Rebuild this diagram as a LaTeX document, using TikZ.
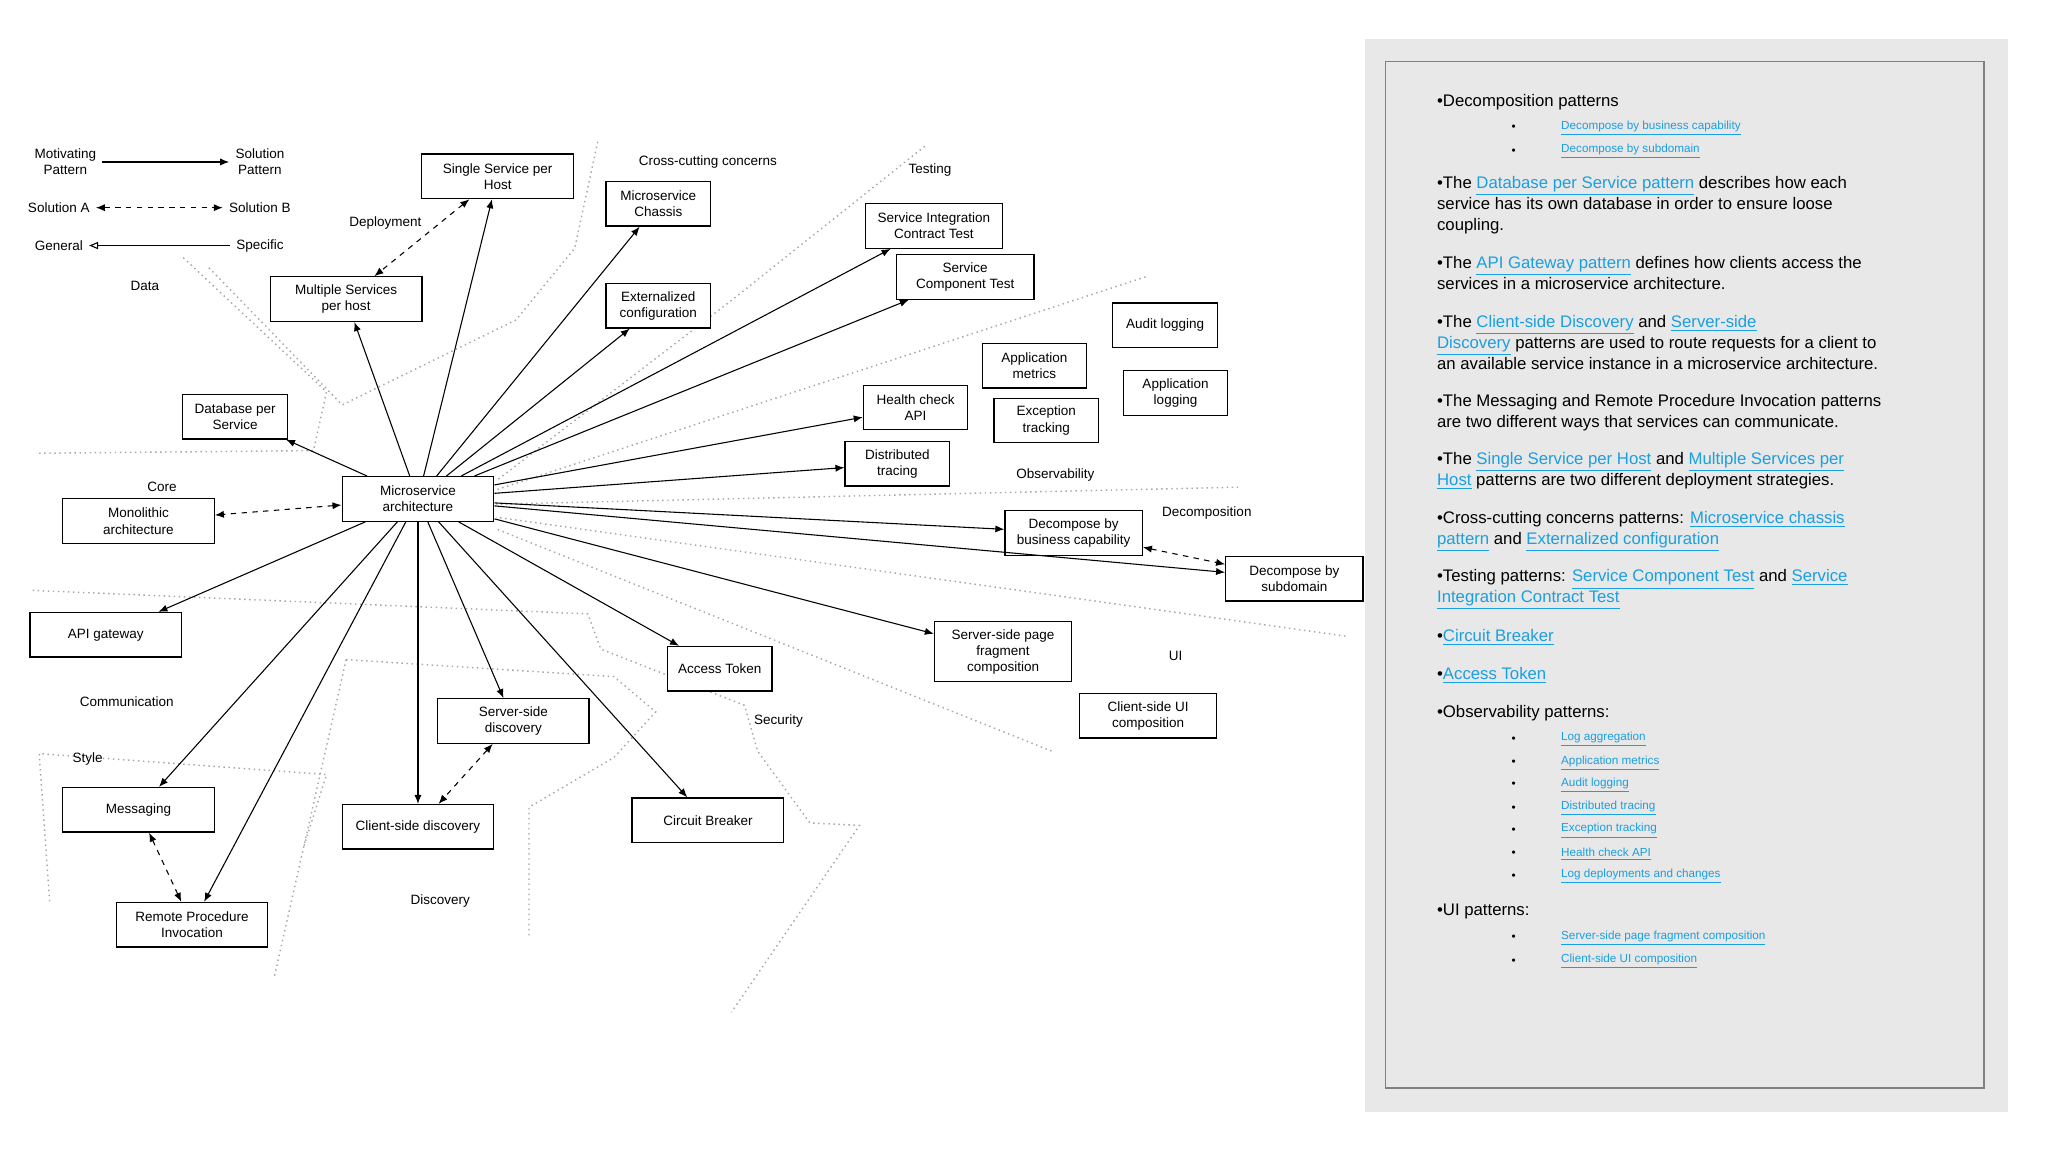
\documentclass[tikz,border=0pt]{standalone}
\usepackage{fontspec}
\setmainfont{Liberation Sans}
\usetikzlibrary{arrows.meta}
\definecolor{lnk}{HTML}{1A9FE0}
\definecolor{panel}{HTML}{E8E8E8}
\newcommand{\lk}[1]{\textcolor{lnk}{\underline{#1}}}

\begin{document}
\begin{tikzpicture}[x=0.0255cm, y=-0.0255cm,
    box/.style={draw, fill=white, line width=0.7pt, minimum width=#1, minimum height=0.87cm,
        align=center, inner sep=1pt, font=\fontsize{7.5}{9}\selectfont},
    box/.default=2.04cm,
    lab/.style={font=\fontsize{7.5}{9}\selectfont, align=center},
    arr/.style={-{Latex[length=5pt,width=4pt]}, line width=0.6pt},
    dsh/.style={{Latex[length=5pt,width=4pt]}-{Latex[length=5pt,width=4pt]}, dashed, line width=0.6pt},
    zone/.style={dotted, gray!70, line width=0.8pt},
    para/.style={anchor=north west, align=left, inner sep=0pt, font=\fontsize{9.3}{11.6}\selectfont},
    sub/.style={anchor=west, inner sep=0pt, font=\fontsize{6.5}{8}\selectfont}]
    \useasboundingbox (0,0) rectangle (1568,882);

    % Zone borders
    \draw[zone] (30,347) -- (240,345) -- (250,300) -- (140,197);
    \draw[zone] (160,205) -- (262,310) -- (395,245) -- (440,190) -- (458,107);
    \draw[zone] (708,112) -- (560,230) -- (380,368);
    \draw[zone] (877,212) -- (380,375);
    \draw[zone] (948,373) -- (380,386);
    \draw[zone] (1030,487) -- (380,396);
    \draw[zone] (805,575) -- (380,405);
    \draw[zone] (25,452) -- (450,470) -- (460,497) -- (570,540) -- (580,575) -- (620,630) -- (658,632) -- (560,775);
    \draw[zone] (265,505) -- (470,518) -- (502,545) -- (470,580) -- (405,618) -- (405,718);
    \draw[zone] (265,505) -- (210,748);
    \draw[zone] (38,690) -- (30,577) -- (250,593) -- (232,650);

    % Legend
    \node[lab] (lmot) at (50,124) {Motivating\\Pattern};
    \node[lab] (lsol) at (199,124) {Solution\\Pattern};
    \node[lab] (lsa) at (45,159) {Solution A};
    \node[lab] (lsb) at (199,159) {Solution B};
    \node[lab] (lgen) at (45,188) {General};
    \node[lab] (lspe) at (199,188) {Specific};
    \draw[arr] (lmot) -- (lsol);
    \draw[dsh] (lsa) -- (lsb);
    \draw[-{Triangle[open,length=5pt,width=4pt]}, line width=0.6pt] (lspe) -- (lgen);

    % Zone labels
    \node[lab] at (542,124) {Cross-cutting concerns};
    \node[lab] at (712,130) {Testing};
    \node[lab] at (295,171) {Deployment};
    \node[lab] at (111,219) {Data};
    \node[lab] at (124,373) {Core};
    \node[lab] at (808,364) {Observability};
    \node[lab] at (924,393) {Decomposition};
    \node[lab] at (900,502) {UI};
    \node[lab] at (97,537) {Communication};
    \node[lab] at (596,552) {Security};
    \node[lab] at (67,581) {Style};
    \node[lab] at (337,690) {Discovery};

    % Pattern boxes
    \node[box=2.96cm] (ms) at (320,382) {Microservice\\architecture};
    \node[box=2.96cm] (single) at (381,135) {Single Service per\\Host};
    \node[box=2.96cm] (multi) at (265,229) {Multiple Services\\per host};
    \node[box] (chassis) at (504,156) {Microservice\\Chassis};
    \node[box] (extconf) at (504,234) {Externalized\\configuration};
    \node[box=2.68cm] (sict) at (715,173) {Service Integration\\Contract Test};
    \node[box=2.68cm] (sct) at (739,212) {Service\\Component Test};
    \node[box] (audit) at (892,249) {Audit logging};
    \node[box] (appmet) at (792,280) {Application\\metrics};
    \node[box] (applog) at (900,301) {Application\\logging};
    \node[box] (health) at (701,312) {Health check\\API};
    \node[box] (exc) at (801,322) {Exception\\tracking};
    \node[box] (dist) at (687,355) {Distributed\\tracing};
    \node[box] (dbps) at (180,319) {Database per\\Service};
    \node[box=2.96cm] (mono) at (106,399) {Monolithic\\architecture};
    \node[box=2.68cm] (decbiz) at (822,408) {Decompose by\\business capability};
    \node[box=2.68cm] (decsub) at (991,443) {Decompose by\\subdomain};
    \node[box=2.96cm] (api) at (81,486) {API gateway};
    \node[box] (access) at (551,512) {Access Token};
    \node[box=2.68cm, minimum height=1.17cm] (ssp) at (768,499) {Server-side page\\fragment\\composition};
    \node[box=2.68cm] (csui) at (879,548) {Client-side  UI\\composition};
    \node[box=2.96cm] (ssd) at (393,552) {Server-side\\discovery};
    \node[box=2.96cm] (msg) at (106,620) {Messaging};
    \node[box=2.96cm] (csd) at (320,633) {Client-side discovery};
    \node[box=2.96cm] (cb) at (542,628) {Circuit Breaker};
    \node[box=2.96cm] (rpi) at (147,708) {Remote Procedure\\Invocation};

    % Motivating -> solution
    \foreach \t in {single,multi,chassis,extconf,sict,sct,health,dist,dbps,decbiz,decsub,api,access,ssp,ssd,csd,cb,msg,rpi}
        \draw[arr] (ms) -- (\t);

    % Alternatives
    \draw[dsh] (ms) -- (mono);
    \draw[dsh] (single) -- (multi);
    \draw[dsh] (decbiz) -- (decsub);
    \draw[dsh] (ssd) -- (csd);
    \draw[dsh] (msg) -- (rpi);

    % Right panel
    \fill[panel] (1045,30) rectangle (1537,851);
    \draw[gray, line width=0.7pt] (1061,47) rectangle (1519,833);
    \node[para, anchor=west] (p1) at (1100,78) {•Decomposition patterns};
    \node[sub] (s1) at (1157,98) {•};
    \node[sub] (l1) at (1195,98) {\lk{Decompose by business capability}};
    \node[sub] (s2) at (1157,116) {•};
    \node[sub] (l2) at (1195,116) {\lk{Decompose by subdomain}};
    \node[para] (p2) at (1100,135) {•The \lk{Database per Service pattern} describes how each\\service has its own database in order to ensure loose\\coupling.};
    \node[para] (p3) at (1100,196) {•The \lk{API Gateway pattern} defines how clients access the\\services in a microservice architecture.};
    \node[para] (p4) at (1100,241) {•The \lk{Client-side Discovery} and \lk{Server-side}\\\lk{Discovery} patterns are used to route requests for a client to\\an available service instance in a microservice architecture.};
    \node[para] (p5) at (1100,302) {•The Messaging and Remote Procedure Invocation patterns\\are two different ways that services can communicate.};
    \node[para] (p6) at (1100,346) {•The \lk{Single Service per Host} and \lk{Multiple Services per}\\\lk{Host} patterns are two different deployment strategies.};
    \node[para] (p7) at (1100,391) {•Cross-cutting concerns patterns: \lk{Microservice chassis}\\\lk{pattern} and \lk{Externalized configuration}};
    \node[para] (p8) at (1100,436) {•Testing patterns: \lk{Service Component Test} and \lk{Service}\\\lk{Integration Contract Test}};
    \node[para, anchor=west] (p9) at (1100,488) {•\lk{Circuit Breaker}};
    \node[para, anchor=west] (p10) at (1100,517) {•\lk{Access Token}};
    \node[para, anchor=west] (p11) at (1100,546) {•Observability patterns:};
    \foreach \y/\t in {566/Log aggregation, 584/Application metrics, 601/Audit logging, 619/Distributed tracing, 636/Exception tracking, 654/Health check API, 671/Log deployments and changes}{
        \node[sub] at (1157,\y) {•};
        \node[sub] at (1195,\y) {\lk{\t}};
    }
    \node[para, anchor=west] (p12) at (1100,698) {•UI patterns:};
    \node[sub] (s3) at (1157,718) {•};
    \node[sub] (l3) at (1195,718) {\lk{Server-side page fragment composition}};
    \node[sub] (s4) at (1157,736) {•};
    \node[sub] (l4) at (1195,736) {\lk{Client-side UI composition}};
\end{tikzpicture}
\end{document}
